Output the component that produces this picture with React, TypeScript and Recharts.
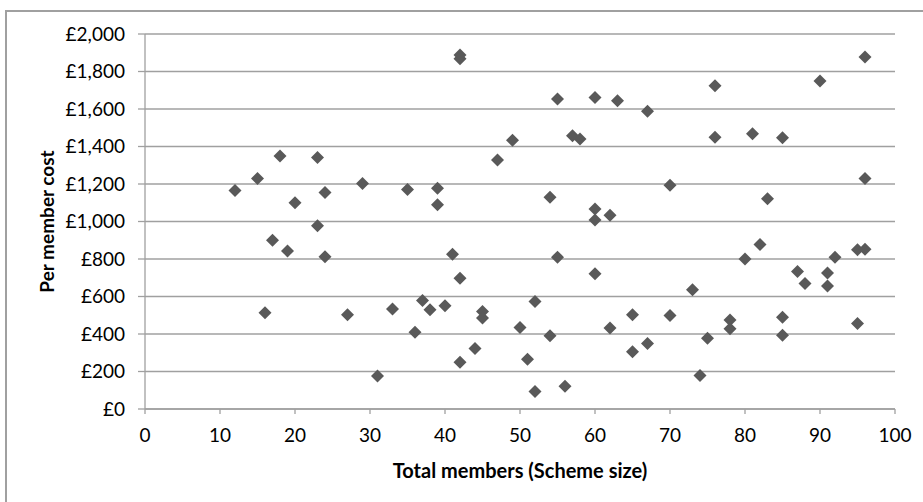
import React from 'react';
import { ScatterChart, Scatter, XAxis, YAxis, CartesianGrid } from 'recharts';

// scheme size (total members) and per member cost
const members = [
  12, 15, 16, 17, 18, 19, 20, 23, 23, 24, 24, 27, 29, 31, 33, 35, 36, 37, 38, 39,
  39, 40, 41, 42, 42, 42, 42, 44, 45, 45, 47, 49, 50, 51, 52, 52, 54, 54, 55, 55,
  56, 57, 58, 60, 60, 60, 60, 62, 62, 63, 65, 65, 67, 67, 70, 70, 73, 74, 75, 76,
  76, 78, 78, 80, 81, 82, 83, 85, 85, 85, 87, 88, 90, 91, 91, 92, 95, 95, 96, 96, 96,
];
const costs = [
  1166, 1230, 514, 900, 1350, 843, 1100, 1342, 978, 1155, 812, 503, 1203, 176, 533, 1171, 410, 579, 530, 1177,
  1090, 551, 826, 1868, 1888, 697, 249, 323, 520, 485, 1328, 1433, 435, 265, 574, 94, 1129, 391, 1653, 810,
  121, 1458, 1440, 1662, 1067, 1008, 722, 1033, 432, 1644, 503, 305, 1588, 350, 1193, 499, 636, 179, 378, 1724,
  1450, 475, 428, 800, 1468, 878, 1122, 1447, 490, 394, 734, 670, 1749, 725, 656, 809, 850, 456, 1877, 1230, 852,
];
const xTicks = [0, 10, 20, 30, 40, 50, 60, 70, 80, 90, 100];
const yTicks = [0, 200, 400, 600, 800, 1000, 1200, 1400, 1600, 1800, 2000];

const data = members.map((m, i) => ({ members: m, cost: costs[i] }));

const GRID = '#a0a0a0';
const MARKER = '#595959';

const Diamond = (props: any) => {
  const { cx, cy } = props;
  const r = 6.5;
  return (
    <polygon
      points={`${cx},${cy - r} ${cx + r},${cy} ${cx},${cy + r} ${cx - r},${cy}`}
      fill={MARKER}
    />
  );
};

const fmtCost = (v: number) => `£${v.toLocaleString('en-GB')}`;

const App: React.FC = () => {
  return (
    <div
      style={{
        position: 'absolute',
        left: 0,
        top: 0,
        width: 923,
        height: 502,
        overflow: 'hidden',
        background: '#fff',
        fontFamily: 'Lato, sans-serif',
      }}
    >
      <ScatterChart
        width={923}
        height={502}
        margin={{ top: 34, right: 28, bottom: 23, left: 0 }}
        style={{ position: 'absolute', left: 0, top: 0 }}
      >
        <CartesianGrid vertical={false} stroke={GRID} strokeWidth={1.3} />
        <XAxis
          type="number"
          dataKey="members"
          domain={[0, 100]}
          ticks={xTicks}
          interval={0}
          height={70}
          stroke={GRID}
          strokeWidth={1.3}
          tickSize={5}
          tickMargin={15}
          tick={{ fill: '#000', fontSize: 19 }}
          label={{
            value: 'Total members (Scheme size)',
            position: 'insideBottom',
            offset: 1,
            style: { fill: '#000', fontSize: 20, fontWeight: 700 },
          }}
        />
        <YAxis
          type="number"
          dataKey="cost"
          domain={[0, 2000]}
          ticks={yTicks}
          interval={0}
          width={145}
          stroke={GRID}
          strokeWidth={1.3}
          tickSize={7}
          tickMargin={13}
          tickFormatter={fmtCost}
          tick={{ fill: '#000', fontSize: 19 }}
          label={{
            value: 'Per member cost',
            angle: -90,
            position: 'insideLeft',
            offset: 47,
            style: { fill: '#000', fontSize: 19, fontWeight: 700, textAnchor: 'middle' },
          }}
        />
        <Scatter data={data} shape={<Diamond />} isAnimationActive={false} />
      </ScatterChart>
      {/* chart frame, runs off the right and bottom edges */}
      <div
        style={{
          position: 'absolute',
          left: 5,
          top: 10,
          width: 940,
          height: 520,
          borderTop: `2px solid ${GRID}`,
          borderLeft: `2px solid ${GRID}`,
          pointerEvents: 'none',
          zIndex: 5,
        }}
      />
    </div>
  );
};

export default App;
